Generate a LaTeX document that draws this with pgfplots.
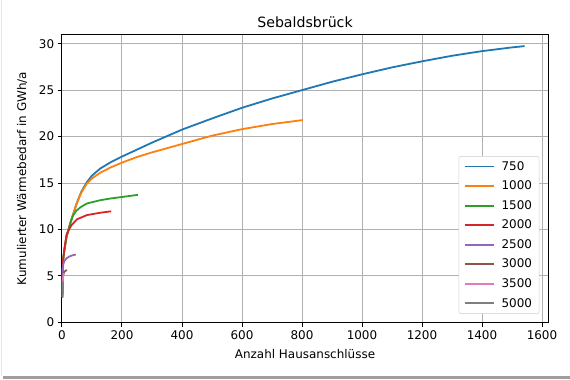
\documentclass[border=0pt]{standalone}
\usepackage{fontspec}
\setmainfont{DejaVu Sans}
\usepackage{pgfplots}
\pgfplotsset{compat=1.18}
\definecolor{c1}{HTML}{1F77B4}
\definecolor{c2}{HTML}{FF7F0E}
\definecolor{c3}{HTML}{2CA02C}
\definecolor{c4}{HTML}{D62728}
\definecolor{c5}{HTML}{9467BD}
\definecolor{c6}{HTML}{8C564B}
\definecolor{c7}{HTML}{E377C2}
\definecolor{c8}{HTML}{7F7F7F}
\begin{document}
\begin{tikzpicture}
\begin{axis}[
  at={(0,0)}, anchor=south west,
  scale only axis, width=486bp, height=288bp,
  xmin=0, xmax=1620, ymin=0, ymax=31,
  xtick={0,200,...,1600}, ytick={0,5,...,30},
  tick pos=left,
  /pgf/number format/assume math mode=true,
  /pgf/number format/set thousands separator={},
  ticklabel style={font=\fontsize{12}{14}\selectfont},
  label style={font=\fontsize{12}{14}\selectfont},
  title style={font=\fontsize{14.2}{16}\selectfont, yshift=-3bp},
  title={Sebaldsbrück},
  xlabel={Anzahl Hausanschlüsse},
  ylabel={Kumulierter Wärmebedarf in GWh/a},
  xlabel style={yshift=-3bp},
  ylabel style={yshift=5bp},
  tick align=outside, major tick length=4.3bp,
  tick style={black, line width=1bp},
  axis line style={line width=1bp},
  grid=major, grid style={color=black!31, line width=1bp},
  legend cell align=left,
  legend style={font=\fontsize{12}{14}\selectfont, draw=black!20, rounded corners=2bp,
    at={(0.982,0.03)}, anchor=south east, row sep=5.2bp, inner xsep=5bp, inner ysep=3bp,
    /tikz/every odd column/.append style={column sep=5bp}},
  legend image code/.code={\draw[#1, line width=1.8bp] (0bp,0bp) -- (29bp,0bp);},
]
% 750
\addplot[c1, line width=1.8bp] coordinates {(1,2.7)(2,5.0)(4,6.8)(8,7.8)(15,9.2)(30,10.95)(50,12.9)(65,14.1)(83,15.1)(100,15.8)(127,16.55)(160,17.2)(200,17.85)(250,18.6)(300,19.35)(350,20.05)(400,20.75)(500,21.95)(600,23.1)(700,24.1)(800,25.0)(900,25.9)(1000,26.7)(1100,27.45)(1200,28.1)(1300,28.7)(1400,29.2)(1500,29.6)(1542,29.74)};
\addlegendentry{750}
% 1000
\addplot[c2, line width=1.8bp] coordinates {(1,2.7)(2,5.0)(4,6.8)(8,7.8)(15,9.2)(30,10.95)(50,12.9)(65,14.0)(83,14.95)(100,15.5)(127,16.1)(160,16.65)(200,17.2)(250,17.8)(300,18.3)(350,18.75)(400,19.2)(500,20.1)(600,20.8)(700,21.35)(803,21.78)};
\addlegendentry{1000}
% 1500
\addplot[c3, line width=1.8bp] coordinates {(1,2.7)(2,5.0)(4,6.8)(8,7.8)(15,9.2)(26,10.5)(36,11.45)(47,12.0)(62,12.4)(83,12.8)(127,13.15)(160,13.33)(200,13.5)(253,13.73)};
\addlegendentry{1500}
% 2000
\addplot[c4, line width=1.8bp] coordinates {(1,2.7)(2,5.0)(4,6.8)(8,7.9)(15,9.45)(30,10.4)(50,11.1)(83,11.55)(127,11.8)(164,11.96)};
\addlegendentry{2000}
% 2500
\addplot[c5, line width=1.8bp] coordinates {(1,2.7)(2,5.0)(4,6.2)(8,6.6)(15,6.9)(25,7.1)(35,7.22)(46,7.3)};
\addlegendentry{2500}
% 3000
\addplot[c6, line width=1.8bp] coordinates {(1,2.7)(2,4.5)(4,5.2)(8,5.45)(16,5.65)};
\addlegendentry{3000}
% 3500
\addplot[c7, line width=1.8bp] coordinates {(1,2.7)(2,4.2)(4,5.0)(7,5.3)};
\addlegendentry{3500}
% 5000
\addplot[c8, line width=1.8bp] coordinates {(1,2.7)(2,3.8)(3,4.4)};
\addlegendentry{5000}
\end{axis}
% screenshot frame
\fill[black!38] (-59bp,-57bp) rectangle (508bp,-54bp);
\draw[black!10, line width=0.8bp] (-60.5bp,-54bp) -- (-60.5bp,322bp);
\useasboundingbox (-62bp,-57bp) rectangle (508bp,322bp);
\end{tikzpicture}
\end{document}
